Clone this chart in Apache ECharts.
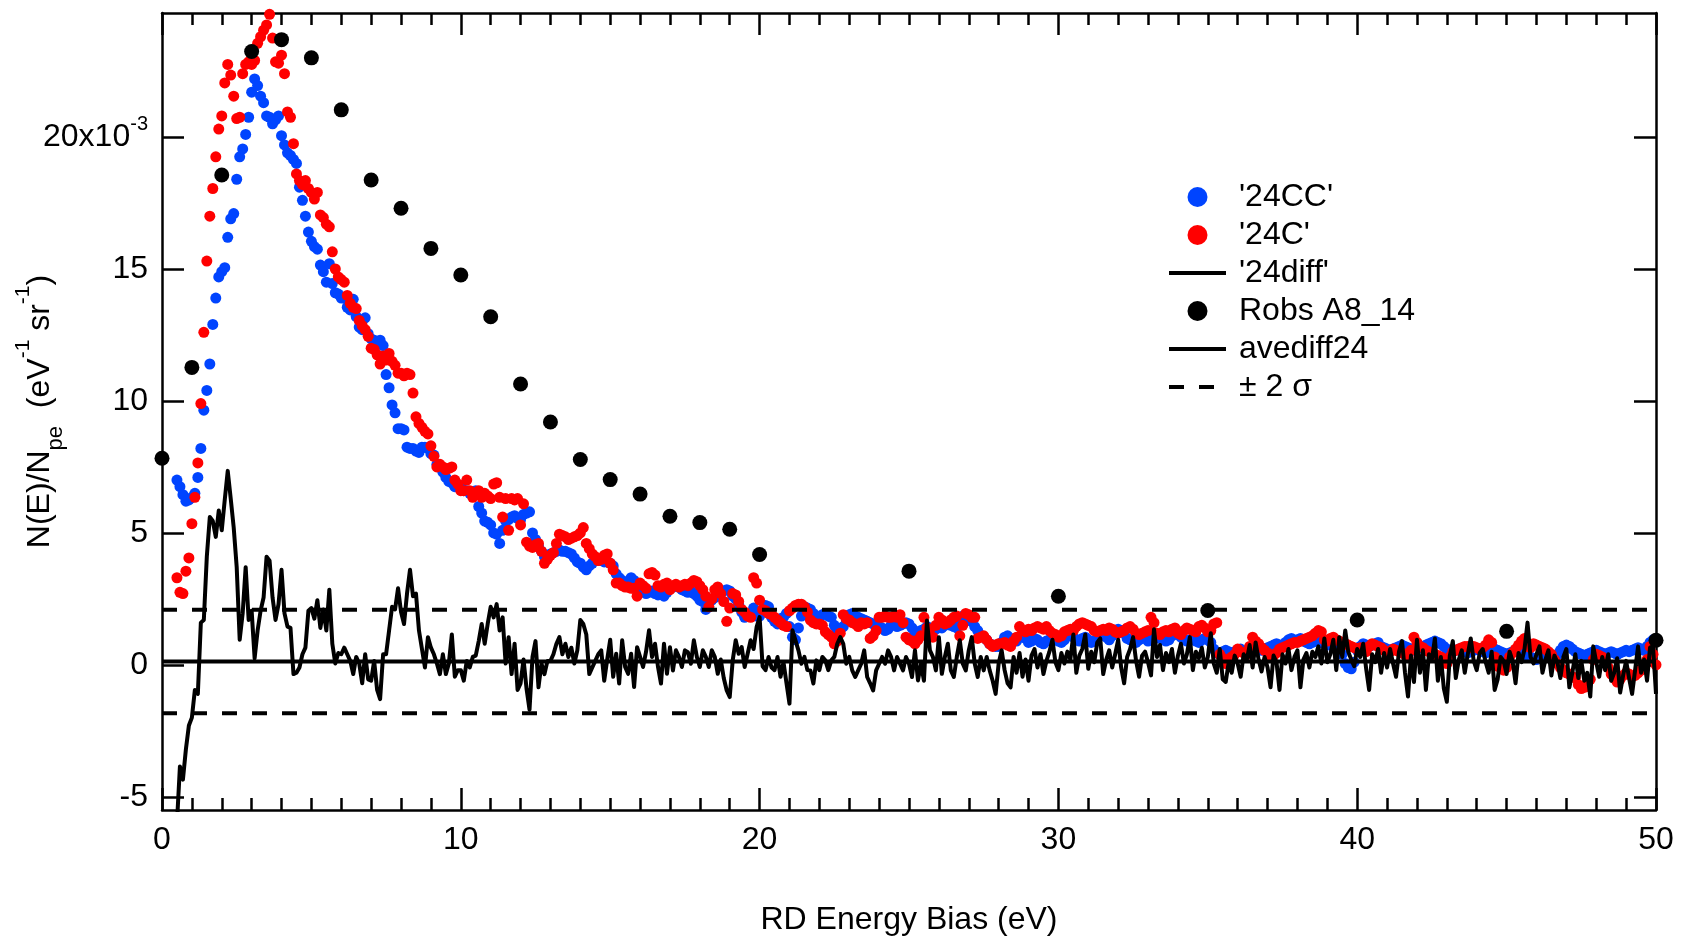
<!DOCTYPE html>
<html>
<head>
<meta charset="utf-8">
<title>RD energy spectra</title>
<script src="https://cdn.jsdelivr.net/npm/echarts@6/dist/echarts.min.js"></script>
<style>
  html, body { margin: 0; padding: 0; background: #ffffff; }
  #chart { width: 1686px; height: 941px; }
</style>
</head>
<body>
<div id="chart"></div>
<script>
// Energy bias sweep of the RD scans: 0.5 eV to 50 eV, 0.1 eV per step.
const E_START = 0.5;
const E_STEP = 0.1;

// N(E)/Npe in units of 1e-3 (eV^-1 sr^-1), one row per eV.
const cc24 = [
  7.0, 6.75, 6.45, 6.2, 6.25,
  6.35, 6.5, 7.1, 8.2, 9.65, 10.4, 11.4, 12.9, 13.9, 14.7,
  14.9, 15.05, 16.2, 16.9, 17.1, 18.4, 19.25, 19.55, 20.1, 20.75,
  21.7, 22.2, 21.95, 21.55, 21.3, 20.8, 20.75, 20.5, 20.65, 20.8,
  20.05, 19.7, 19.4, 19.3, 19.15, 19.0, 18.1, 17.6, 17.0, 16.4,
  16.05, 15.85, 15.75, 15.15, 14.9, 14.5, 15.2, 14.45, 14.1, 14.05,
  13.9, 13.9, 13.55, 13.45, 13.85, 13.2, 12.8, 12.7, 13.15, 12.55,
  12.35, 12.3, 12.25, 12.3, 12.1, 11.0, 10.5, 9.85, 9.55, 8.95,
  8.95, 8.9, 8.25, 8.2, 8.2, 8.1, 8.05, 8.25, 8.25, 8.2,
  8.0, 7.95, 7.6, 7.5, 7.3, 7.1, 6.95, 6.9, 6.75, 6.8,
  6.8, 6.6, 6.6, 6.5, 6.55, 6.6, 6.0, 5.75, 5.45, 5.4,
  5.3, 5.0, 4.95, 4.6, 5.1, 5.45, 5.5, 5.6, 5.65, 5.55,
  5.5, 5.7, 5.75, 5.8, 5.0, 4.75, 4.5, 4.3, 4.1, 4.05,
  4.2, 4.25, 4.3, 4.35, 4.3, 4.3, 4.25, 4.2, 4.05, 3.9,
  3.85, 3.7, 3.6, 3.75, 3.85, 3.95, 4.0, 3.95, 3.9, 3.9,
  3.85, 3.75, 3.45, 3.3, 3.2, 3.05, 3.15, 3.3, 3.2, 2.85,
  2.85, 2.8, 2.7, 2.75, 2.8, 2.7, 2.65, 2.7, 2.6, 2.75,
  2.9, 2.95, 3.0, 2.95, 2.85, 2.8, 2.75, 2.8, 2.7, 2.6,
  2.45, 2.4, 2.1, 2.2, 2.45, 2.55, 2.65, 2.7, 2.8, 2.85,
  2.8, 2.6, 2.5, 2.3, 2.0, 1.8, 1.85, 1.95, 2.15, 1.85,
  1.85, 2.0, 2.25, 2.2, 1.8, 1.65, 1.55, 1.75, 1.8, 1.95,
  1.45, 1.05, 0.95, 1.4, 1.85, 2.2, 2.15, 2.1, 1.95, 1.8,
  1.8, 1.9, 1.95, 1.85, 1.8, 1.5, 1.3, 1.35, 1.45, 1.7,
  1.9, 1.95, 1.85, 1.8, 1.75, 1.7, 1.65, 1.6, 1.55, 1.5,
  1.45, 1.4, 1.3, 1.35, 1.5, 1.55, 1.45, 1.5, 1.55, 1.6,
  1.55, 1.4, 1.2, 1.25, 1.3, 1.35, 1.45, 1.4, 1.3, 1.35,
  1.45, 1.4, 1.5, 1.55, 1.5, 1.45, 1.4, 1.6, 1.85, 1.9,
  1.8, 1.65, 1.45, 1.3, 1.1, 1.05, 0.95, 0.8, 0.75, 0.7,
  0.7, 0.85, 1.05, 1.1, 1.0, 0.95, 0.9, 1.05, 1.15, 1.0,
  0.85, 0.9, 1.0, 0.95, 0.85, 0.8, 0.9, 0.95, 1.05, 1.0,
  0.9, 0.85, 0.95, 1.1, 1.2, 1.05, 0.95, 0.9, 1.0, 1.05,
  0.95, 0.85, 0.9, 1.0, 1.15, 1.2, 1.05, 0.95, 1.1, 1.3,
  1.35, 1.3, 1.2, 1.0, 0.95, 0.9, 0.85, 0.95, 1.05, 1.0,
  0.9, 0.95, 1.05, 1.1, 1.0, 0.95, 0.9, 0.95, 1.1, 1.2,
  1.15, 1.05, 0.95, 0.9, 0.95, 1.0, 0.9, 0.85, 0.95, 1.0,
  0.95, 0.85, 0.6, 0.45, 0.4, 0.5, 0.55, 0.5, 0.45, 0.5,
  0.55, 0.6, 0.5, 0.45, 0.55, 0.6, 0.65, 0.6, 0.55, 0.6,
  0.65, 0.7, 0.75, 0.8, 0.75, 0.7, 0.85, 0.95, 1.0, 0.9,
  0.95, 1.0, 0.9, 0.85, 0.8, 0.85, 0.9, 0.95, 0.85, 0.8,
  0.75, 0.85, 0.9, 0.8, 0.7, 0.4, 0.05, -0.1, -0.15, 0.1,
  0.55, 0.7, 0.8, 0.75, 0.7, 0.75, 0.8, 0.85, 0.7, 0.65,
  0.6, 0.55, 0.6, 0.65, 0.7, 0.75, 0.7, 0.65, 0.6, 0.55,
  0.6, 0.65, 0.7, 0.75, 0.8, 0.85, 0.9, 0.85, 0.8, 0.7,
  0.6, 0.55, 0.5, 0.55, 0.6, 0.55, 0.5, 0.45, 0.5, 0.55,
  0.6, 0.55, 0.5, 0.45, 0.5, 0.55, 0.6, 0.55, 0.5, 0.45,
  0.4, 0.45, 0.5, 0.55, 0.5, 0.45, 0.4, 0.35, 0.3, 0.25,
  0.2, 0.25, 0.3, 0.35, 0.3, 0.25, 0.3, 0.4, 0.55, 0.7,
  0.75, 0.7, 0.6, 0.5, 0.45, 0.4, 0.35, 0.4, 0.45, 0.5,
  0.55, 0.5, 0.45, 0.4, 0.45, 0.5, 0.45, 0.4, 0.45, 0.5,
  0.55, 0.5, 0.55, 0.6, 0.65, 0.6, 0.55, 0.7, 0.85, 0.95,
  0.9
];

const c24 = [
  3.3, 2.75, 2.7, 3.55, 4.05,
  5.35, 6.35, 7.65, 9.9, 12.6, 15.3, 17.0, 18.05, 19.25, 20.3,
  20.8, 22.05, 22.75, 22.35, 21.55, 20.7, 20.75, 22.4, 22.75, 22.85,
  22.75, 22.9, 23.55, 23.8, 24.05, 24.25, 24.65, 23.75, 22.85, 22.8,
  23.1, 22.4, 20.95, 20.75, 19.75, 18.6, 18.35, 18.2, 18.35, 18.05,
  17.9, 17.65, 17.9, 17.05, 16.95, 16.7, 16.6, 15.65, 15.0, 14.7,
  14.6, 14.5, 14.0, 13.7, 13.55, 13.5, 13.05, 12.85, 12.7, 12.45,
  12.0, 11.95, 11.75, 11.4, 11.7, 11.55, 11.8, 11.5, 11.35, 11.05,
  11.05, 10.95, 11.05, 11.0, 10.3, 9.4, 9.15, 9.0, 8.85, 8.75,
  8.3, 7.9, 7.5, 7.6, 7.5, 7.4, 7.45, 7.5, 7.0, 6.85,
  6.6, 6.6, 7.0, 6.6, 6.35, 6.5, 6.6, 6.35, 6.5, 6.4,
  6.3, 6.85, 6.9, 6.35, 5.6, 6.3, 5.1, 6.3, 6.25, 6.3,
  5.3, 6.1, 4.65, 4.5, 4.45, 4.55, 4.6, 4.3, 3.85, 4.0,
  4.15, 4.25, 4.6, 4.95, 4.9, 4.85, 4.75, 4.8, 4.85, 4.9,
  5.0, 5.2, 4.6, 4.4, 4.2, 4.1, 3.95, 4.0, 4.15, 4.2,
  3.85, 3.6, 3.1, 3.1, 3.0, 2.95, 2.95, 2.9, 2.9, 2.6,
  3.1, 3.0, 2.9, 3.45, 3.5, 3.4, 3.0, 2.95, 3.05, 3.1,
  2.85, 3.0, 3.05, 2.95, 3.0, 3.05, 3.0, 3.1, 3.2, 3.15,
  3.0, 2.85, 2.6, 2.2, 2.5, 2.85, 2.95, 2.7, 2.4, 1.65,
  2.15, 2.7, 2.65, 2.4, 2.1, 2.0, 1.85, 1.8, 3.3, 3.1,
  2.45, 2.1, 2.05, 1.95, 1.9, 1.8, 1.7, 1.6, 1.5, 1.45,
  2.05, 2.15, 2.25, 2.3, 2.3, 2.2, 2.0, 1.7, 1.6, 1.55,
  1.55, 1.5, 1.25, 1.15, 1.05, 0.8, 0.9, 1.2, 1.9, 1.75,
  1.7, 1.6, 1.55, 1.45, 1.6, 1.55, 1.6, 1.0, 1.1, 1.3,
  1.8, 1.8, 1.85, 1.8, 1.8, 1.85, 1.8, 1.9, 1.6, 1.05,
  0.95, 0.9, 0.8, 0.95, 1.1, 1.8, 1.4, 1.35, 1.05, 1.5,
  1.8, 1.7, 1.55, 1.6, 1.7, 1.8, 1.85, 1.1, 1.5, 1.95,
  1.9, 1.8, 1.8, 1.0, 1.05, 1.1, 0.95, 0.8, 0.7, 0.75,
  0.8, 0.8, 0.85, 0.75, 0.7, 0.9, 1.05, 1.45, 1.3, 1.25,
  1.35, 1.3, 1.4, 1.45, 1.4, 1.35, 1.45, 1.3, 1.2, 1.15,
  1.05, 1.1, 1.25, 1.3, 1.35, 1.3, 1.45, 1.55, 1.6, 1.55,
  1.5, 1.45, 1.3, 1.25, 1.3, 1.35, 1.3, 1.4, 1.35, 1.25,
  1.2, 1.25, 1.3, 1.4, 1.45, 1.35, 1.2, 1.15, 1.2, 1.25,
  1.3, 1.8, 1.6, 1.2, 1.15, 1.25, 1.3, 1.25, 1.35, 1.4,
  1.2, 1.15, 1.3, 1.4, 1.35, 1.3, 1.25, 1.45, 1.5, 1.4,
  1.25, 1.3, 1.55, 1.6, 0.4, 0.25, 0.05, 0.2, 0.3, 0.4,
  0.6, 0.5, 0.45, 0.4, 0.7, 1.05, 0.9, 0.8, 0.65, 0.55,
  0.45, 0.3, 0.35, 0.45, 0.6, 0.65, 0.7, 0.75, 0.8, 0.85,
  0.85, 0.9, 0.95, 1.0, 1.05, 1.1, 1.2, 1.3, 1.25, 0.95,
  0.9, 1.0, 1.05, 0.95, 0.9, 0.85, 0.8, 0.75, 0.7, 0.65,
  0.6, 0.65, 0.55, 0.5, 0.7, 0.8, 0.75, 0.7, 0.65, 0.55,
  0.45, 0.5, 0.6, 0.55, 0.5, 0.45, 0.4, 0.3, 0.55, 1.05,
  0.85, 0.7, 0.65, 0.55, 0.5, 0.45, 0.4, 0.35, 0.3, 0.2,
  0.05, 0.3, 0.5, 0.55, 0.6, 0.65, 0.7, 0.7, 0.65, 0.7,
  0.65, 0.6, 0.65, 0.75, 0.95, 0.85, 0.3, -0.05, -0.1, -0.2,
  -0.1, 0.3, 0.45, 0.6, 0.75, 0.9, 1.0, 0.7, 0.65, 0.8,
  0.75, 0.7, 0.65, 0.6, 0.5, 0.4, 0.2, 0.05, -0.1, -0.2,
  -0.3, -0.35, -0.45, -0.5, -0.75, -0.9, -0.85, -0.7, -0.55, 0.2,
  0.4, 0.35, 0.3, 0.15, -0.1, -0.35, -0.5, -0.65, -0.55, -0.4,
  -0.3, -0.35, -0.45, -0.4, -0.3, -0.2, -0.15, 0.2, 0.7, 0.4,
  0.0
];

const diff24 = [
  -6.0, -3.85, -4.35, -3.2, -2.3,
  -2.0, -0.95, -1.1, 1.6, 1.7, 4.1, 5.6, 5.45, 4.85, 5.85,
  5.1, 6.25, 7.35, 6.3, 5.2, 3.7, 0.95, 1.95, 3.7, 1.7,
  2.05, 0.25, 1.3, 2.05, 2.55, 4.1, 3.95, 2.55, 1.7, 2.3,
  3.6, 1.95, 1.45, 1.4, -0.35, -0.3, -0.1, 0.4, 0.65, 2.05,
  2.15, 1.75, 2.45, 1.4, 2.1, 1.3, 2.85, 0.8, 0.05, 0.45,
  0.4, 0.65, 0.4, 0.15, -0.35, 0.3, 0.05, -0.7, 0.4, -0.55,
  -0.6, 0.15, -0.95, -1.3, 0.4, 0.4, 1.3, 2.2, 2.1, 2.9,
  2.0, 1.55, 2.7, 3.6, 2.6, 2.7, 1.3, 0.6, -0.1, 1.05,
  0.65, 0.4, 0.05, -0.35, 0.4, -0.35, 0.05, 1.15, -0.45, -0.2,
  -0.2, -0.6, 0.15, -0.1, 0.3, 0.35, 0.9, 1.55, 0.8, 1.55,
  2.2, 1.8, 2.3, 1.3, 1.8, 0.05, 1.05, -0.35, 0.8, -0.95,
  -0.7, 0.2, -0.9, -1.7, 0.3, 0.9, -0.85, 0.05, -0.35, 0.15,
  0.15, 0.4, 0.8, 1.05, 0.4, 0.8, 0.3, 0.65, 0.05, 0.55,
  1.7, 1.55, 1.15, -0.35, -0.1, 0.15, 0.4, 0.55, -0.6, 0.2,
  0.95, -0.45, 0.42, -0.71, 0.93, -0.08, -0.34, 0.42, -0.84, 0.67,
  0.3, -0.08, 0.5, 1.31, 0.3, 0.8, -0.08, -0.71, 0.8, -0.34,
  0.67, -0.21, 0.55, 0.3, -0.08, 0.55, 0.48, 0.04, 0.93, 0.3,
  -0.08, 0.55, 0.3, -0.08, 0.55, 0.3, -0.34, 0.2, -0.5, -0.97,
  -1.22, 0.17, 0.93, 0.42, 0.67, -0.08, 0.42, 0.93, 0.6, 1.43,
  1.81, -0.05, -0.2, 0.3, -0.1, -0.2, 0.3, -0.45, 0.1, -0.7,
  -1.47, 1.31, 0.93, 0.55, 0.04, 0.3, -0.2, -0.21, -0.71, 0.17,
  -0.2, 0.3, 0.17, -0.2, 0.17, 0.3, 0.8, 1.05, 0.8, 0.04,
  0.3, -0.21, -0.46, -0.21, 0.04, 0.55, -0.46, -0.7, -0.97, -0.21,
  0.04, 0.3, 0.04, 0.55, 0.3, -0.21, 0.3, 0.04, -0.21, 0.3,
  0.04, -0.46, 0.55, -0.59, 0.04, -0.6, 1.68, 0.55, 0.3, -0.21,
  1.05, -0.34, 0.3, 0.8, -0.21, -0.46, 0.3, 0.93, 0.04, -0.21,
  0.55, 1.05, 0.04, -0.46, 0.3, -0.21, 0.3, -0.21, -0.6, -1.1,
  0.05, 0.55, -0.2, -0.7, -0.85, 0.3, -0.3, 0.45, -0.45, 0.2,
  -0.6, 0.35, 0.6, -0.1, 0.4, -0.35, 0.15, 0.5, 0.95, 0.1,
  -0.2, 0.45, 0.05, 0.5, 0.2, 1.15, -0.3, 0.35, 0.6, 1.15,
  -0.15, 0.5, 0.1, 0.85, 1.0, -0.35, 0.2, 0.55, -0.1, 0.4,
  0.95, -0.1, -0.7, 0.3, 0.6, 1.05, 0.15, -0.45, 0.35, 0.5,
  0.1, -0.4, 1.35, 0.3, 0.75, -0.2, 0.45, 0.1, 0.6, -0.3,
  0.35, 0.8, 0.05, 0.4, 1.05, -0.2, 0.5, 0.25, 0.65, -0.1,
  0.3, 1.2, 0.05, -0.3, 0.6, -0.55, -0.65, 0.1, -0.3, 0.35,
  0.05, -0.45, 0.4, 0.15, 0.75, -0.1, 0.85, 0.2, -0.25, 0.3,
  -0.1, -0.85, 0.35, 0.1, -0.95, 0.4, 0.05, 0.6, -0.2, 0.3,
  0.55, -0.85, 0.2, 0.45, -0.1, 0.5, 0.3, 0.7, 0.05, 1.0,
  0.1, 0.4, 0.95, -0.2, 1.05, 0.3, 1.3, 0.5, 0.2, -0.05,
  0.6, 0.3, 0.8, -0.15, -0.95, 0.4, 0.1, 0.6, -0.3, 0.45,
  -0.1, 0.6, 0.05, -0.45, 0.5, 0.9, -0.3, -1.2, 0.35, -0.65,
  0.95, -0.3, 0.55, -0.95, 0.4, 0.2, 1.0, -0.6, 0.3, -0.9,
  -1.4, 0.35, 0.9, -0.5, 0.2, 0.55, -0.3, 0.4, 1.0, 0.15,
  -0.2, 0.45, 0.6, 0.1, -0.3, 0.5, -0.95, -0.55, 0.3, 0.15,
  -0.35, 0.5, 0.15, -0.7, 0.45, 0.1, 0.6, 1.6, 0.3, 0.05,
  0.4, 0.7, -0.3, 0.2, 0.55, -0.4, 0.35, 0.1, -0.5, 0.3,
  0.6, -0.85, -0.3, 0.4, -0.5, 0.15, -0.6, -0.3, -1.2, 0.7,
  0.1, -0.45, 0.3, -0.2, 0.4, -0.6, -0.3, 0.25, -1.05, -0.4,
  0.15, -0.5, -1.1, -0.2, 0.7, -0.3, 0.2, -0.6, 0.65, 0.7,
  -1.1
];

// Reference spectrum (Robs A8_14), sampled every eV up to 20 eV, then every 5 eV.
const robsE = [0, 1, 2, 3, 4, 5, 6, 7, 8, 9, 10, 11, 12, 13, 14, 15, 16, 17, 18, 19, 20, 25, 30, 35, 40, 45, 50];
const robsN = [7.83, 11.27, 18.56, 23.24, 23.69, 23.0, 21.03, 18.37, 17.3, 15.78, 14.77, 13.19, 10.64, 9.2,
               7.78, 7.02, 6.47, 5.63, 5.39, 5.14, 4.18, 3.55, 2.6, 2.06, 1.7, 1.27, 0.93];

// Mean of the difference spectrum and its 2-sigma spread.
const AVEDIFF24 = 0.13;
const TWO_SIGMA = 1.96;

// Axis ranges and labelled ticks.
const X_RANGE = [0, 50];
const Y_RANGE = [-5.5, 24.7];
const Y_TICKS = [-5, 0, 5, 10, 15, 20];

const FONT = '"Liberation Sans", Arial, Helvetica, sans-serif';
const FONT_SIZE = 32;
const BLUE = '#0044ff';
const RED = '#ff0000';
const BLACK = '#000000';
const LINE_WIDTH = 4;
const DASH = [15, 15];

if (cc24.length !== c24.length || c24.length !== diff24.length) {
  throw new Error('series lengths differ: ' + cc24.length + ', ' + c24.length + ', ' + diff24.length);
}

const energyOf = (i) => Math.round((E_START + i * E_STEP) * 100) / 100;
const withEnergy = (vals) => vals.map((v, i) => [energyOf(i), v]);
const flatLine = (y) => [[X_RANGE[0], y], [X_RANGE[1], y]];

const axisLineStyle = { color: BLACK, width: 2.5 };

function xAxisDef(position, showLabels) {
  return {
    type: 'value',
    position: position,
    min: X_RANGE[0],
    max: X_RANGE[1],
    interval: 10,
    axisLine: { show: true, onZero: false, lineStyle: axisLineStyle },
    axisTick: { show: true, inside: true, length: 22, lineStyle: axisLineStyle },
    minorTick: { show: true, splitNumber: 10, length: 12, lineStyle: axisLineStyle },
    splitLine: { show: false },
    minorSplitLine: { show: false },
    axisLabel: {
      show: showLabels,
      margin: 14,
      color: BLACK,
      fontFamily: FONT,
      fontSize: FONT_SIZE
    },
    name: showLabels ? 'RD Energy Bias (eV)' : '',
    nameLocation: 'middle',
    nameGap: 94,
    nameMoveOverlap: false,
    nameTextStyle: { color: BLACK, fontFamily: FONT, fontSize: FONT_SIZE }
  };
}

function yAxisDef(position, showLabels) {
  return {
    type: 'value',
    position: position,
    min: Y_RANGE[0],
    max: Y_RANGE[1],
    axisLine: { show: true, onZero: false, lineStyle: axisLineStyle },
    axisTick: { show: true, inside: true, length: 22, lineStyle: axisLineStyle, customValues: Y_TICKS },
    splitLine: { show: false },
    axisLabel: {
      show: showLabels,
      customValues: Y_TICKS,
      margin: 14,
      color: BLACK,
      fontFamily: FONT,
      formatter: (v) => (v === 20 ? '{m|20x10}{e|-3}' : '{m|' + v + '}'),
      rich: {
        m: { fontSize: FONT_SIZE, lineHeight: 46, fontFamily: FONT, color: BLACK },
        e: { fontSize: 20, lineHeight: 20, verticalAlign: 'top', fontFamily: FONT, color: BLACK }
      }
    },
    name: showLabels ? '{n|N(E)/N}{s|pe}{n|  (eV}{p|-1}{n| sr}{p|-1}{n|)}' : '',
    nameLocation: 'middle',
    nameGap: 95,
    nameMoveOverlap: false,
    nameTextStyle: {
      color: BLACK,
      fontFamily: FONT,
      rich: {
        n: { fontSize: FONT_SIZE, lineHeight: 54, fontFamily: FONT, color: BLACK },
        s: { fontSize: 22, lineHeight: 22, verticalAlign: 'bottom', fontFamily: FONT, color: BLACK },
        p: { fontSize: 21, lineHeight: 21, verticalAlign: 'top', fontFamily: FONT, color: BLACK }
      }
    }
  };
}

const chart = echarts.init(document.getElementById('chart'), null, { renderer: 'canvas' });

// Line entries in the legend show only their stroke, no marker.
const lineLegendItem = (name, dashed) => ({
  name: name,
  itemStyle: { opacity: 0 },
  lineStyle: { width: LINE_WIDTH, color: BLACK, opacity: 1, type: dashed ? DASH : 'solid' }
});

chart.setOption({
  animation: false,
  backgroundColor: '#ffffff',
  grid: { left: 162, top: 13, width: 1494, height: 797, containLabel: false, outerBoundsMode: 'none' },
  xAxis: [xAxisDef('bottom', true), xAxisDef('top', false)],
  yAxis: [yAxisDef('left', true), yAxisDef('right', false)],
  legend: {
    orient: 'vertical',
    left: 1162,
    top: 176,
    itemWidth: 57,
    itemHeight: 20,
    itemGap: 6,
    selectedMode: false,
    lineStyle: { width: LINE_WIDTH },
    data: [
      "'24CC'",
      "'24C'",
      lineLegendItem("'24diff'", false),
      'Robs A8_14',
      lineLegendItem('avediff24', false),
      lineLegendItem('± 2 σ', true)
    ],
    textStyle: {
      color: BLACK,
      fontFamily: FONT,
      fontSize: FONT_SIZE,
      lineHeight: 32,
      padding: [0, 0, 0, 8]
    }
  },
  series: [
    {
      name: "'24CC'",
      type: 'scatter',
      data: withEnergy(cc24),
      symbol: 'circle',
      symbolSize: 11,
      clip: false,
      itemStyle: { color: BLUE, opacity: 1 }
    },
    {
      name: "'24C'",
      type: 'scatter',
      data: withEnergy(c24),
      symbol: 'circle',
      symbolSize: 11,
      clip: false,
      itemStyle: { color: RED, opacity: 1 }
    },
    {
      name: "'24diff'",
      type: 'line',
      data: withEnergy(diff24),
      symbol: 'none',
      showSymbol: false,
      lineStyle: { color: BLACK, width: LINE_WIDTH, join: 'round' },
      itemStyle: { color: BLACK }
    },
    {
      name: 'Robs A8_14',
      type: 'scatter',
      data: robsE.map((e, i) => [e, robsN[i]]),
      symbol: 'circle',
      symbolSize: 15,
      clip: false,
      itemStyle: { color: BLACK, opacity: 1 }
    },
    {
      name: 'avediff24',
      type: 'line',
      data: flatLine(AVEDIFF24),
      symbol: 'none',
      showSymbol: false,
      lineStyle: { color: BLACK, width: LINE_WIDTH },
      itemStyle: { color: BLACK }
    },
    {
      name: '± 2 σ',
      type: 'line',
      data: flatLine(AVEDIFF24 + TWO_SIGMA),
      symbol: 'none',
      showSymbol: false,
      lineStyle: { color: BLACK, width: LINE_WIDTH, type: DASH },
      itemStyle: { color: BLACK }
    },
    {
      name: '± 2 σ',
      type: 'line',
      data: flatLine(AVEDIFF24 - TWO_SIGMA),
      symbol: 'none',
      showSymbol: false,
      lineStyle: { color: BLACK, width: LINE_WIDTH, type: DASH },
      itemStyle: { color: BLACK }
    }
  ]
});
</script>
</body>
</html>
